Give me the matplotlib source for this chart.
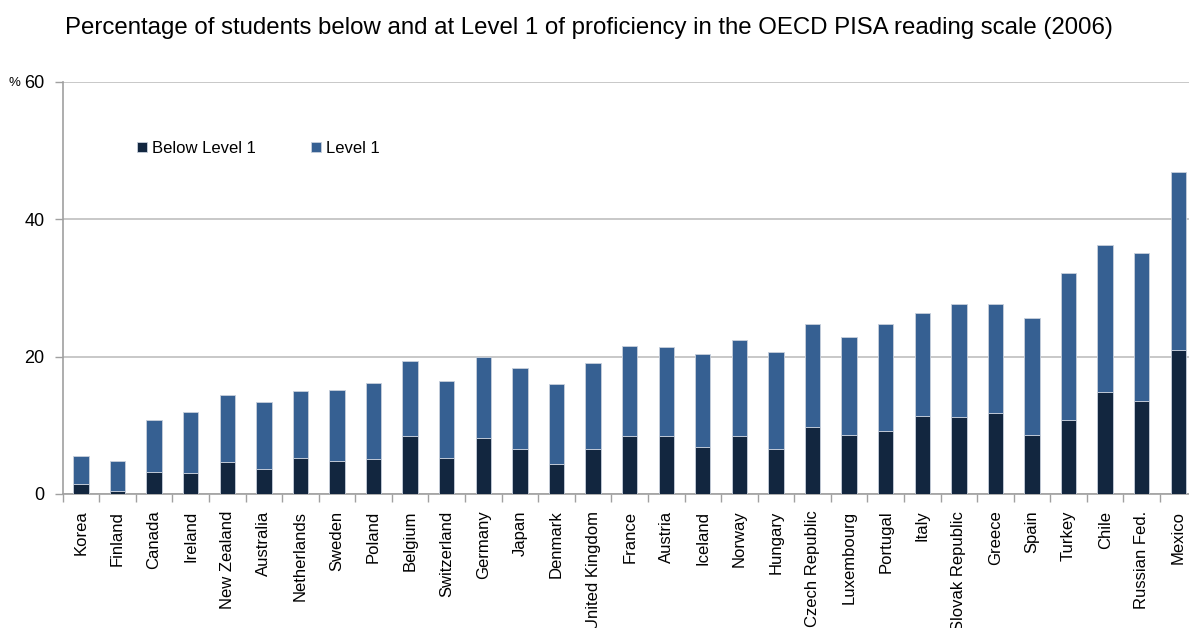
import matplotlib
matplotlib.use('Agg')
import matplotlib.pyplot as plt
import numpy as np

plt.rcParams['font.family'] = ['Liberation Sans', 'DejaVu Sans']

# Data (PISA 2006 reading)
countries = ['Korea', 'Finland', 'Canada', 'Ireland', 'New Zealand', 'Australia',
             'Netherlands', 'Sweden', 'Poland', 'Belgium', 'Switzerland', 'Germany',
             'Japan', 'Denmark', 'United Kingdom', 'France', 'Austria', 'Iceland',
             'Norway', 'Hungary', 'Czech Republic', 'Luxembourg', 'Portugal', 'Italy',
             'Slovak Republic', 'Greece', 'Spain', 'Turkey', 'Chile', 'Russian Fed.',
             'Mexico']
below_level1 = [1.4, 0.5, 3.2, 3.0, 4.6, 3.6, 5.2, 4.8, 5.1, 8.4, 5.2, 8.2,
                6.6, 4.4, 6.6, 8.4, 8.4, 6.9, 8.4, 6.6, 9.8, 8.6, 9.1, 11.3,
                11.2, 11.8, 8.6, 10.7, 14.8, 13.6, 20.9]
total_upto_level1 = [5.6, 4.8, 10.8, 12.0, 14.4, 13.4, 15.0, 15.2, 16.2, 19.4, 16.4, 20.0,
                     18.4, 16.0, 19.0, 21.6, 21.4, 20.4, 22.4, 20.6, 24.8, 22.8, 24.8, 26.3,
                     27.7, 27.6, 25.6, 32.2, 36.2, 35.1, 46.9]
level1 = [t - b for t, b in zip(total_upto_level1, below_level1)]

dark = '#12263f'
blue = '#366092'
grid_col = '#bfbfbf'

fig = plt.figure(figsize=(11.89, 6.28), dpi=100)
ax = fig.add_axes([0.0527, 0.2134, 0.9537, 0.6565])

x = np.arange(len(countries))
ax.bar(x, below_level1, width=0.42, color=dark, edgecolor='#c8d0dc', linewidth=0.6,
       label='Below Level 1', zorder=3)
ax.bar(x, level1, width=0.42, bottom=below_level1, color=blue, edgecolor='#c8d0dc',
       linewidth=0.6, label='Level 1', zorder=3)

ax.set_xlim(-0.5, len(countries) - 0.5)
ax.set_ylim(0, 60)
ax.set_yticks([0, 20, 40, 60])
ax.set_yticklabels(['0', '20', '40', '60'], fontsize=13)
ax.yaxis.grid(True, color=grid_col, linewidth=1.2, zorder=0)

ax.set_xticks(x)
ax.set_xticklabels(countries, rotation=90, fontsize=12, va='top')
ax.set_xticks(np.arange(len(countries) + 1) - 0.5, minor=True)
ax.tick_params(axis='x', which='major', length=0, pad=12)
ax.tick_params(axis='x', which='minor', length=6, color='#a0a0a0', width=1)
ax.tick_params(axis='y', length=6, color='#a0a0a0', width=1, pad=7)

for side in ['top', 'right']:
    ax.spines[side].set_visible(False)
for side in ['left', 'bottom']:
    ax.spines[side].set_color('#a0a0a0')
    ax.spines[side].set_linewidth(1.2)

# small percent sign next to the top tick label
fig.text(0.007, 0.868, '%', fontsize=9.5, va='center')

fig.text(0.495, 0.955, 'Percentage of students below and at Level 1 of proficiency '
         'in the OECD PISA reading scale (2006)', fontsize=17.3, ha='center', va='center')

fig.legend(loc='center left', bbox_to_anchor=(0.103, 0.764), ncol=2, frameon=False,
           fontsize=12, handlelength=0.6, handleheight=0.6, handletextpad=0.3,
           columnspacing=3.3)

fig.savefig('out.png', dpi=100)
